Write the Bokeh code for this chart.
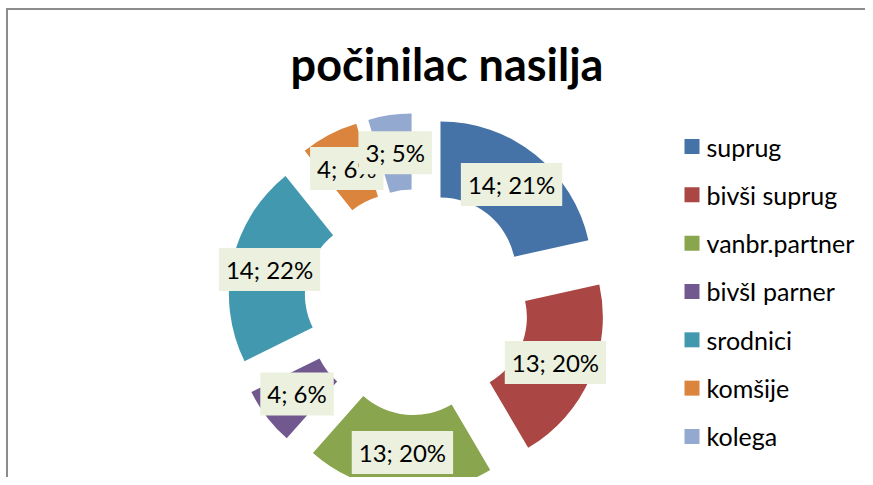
import math
from bokeh.plotting import figure
from bokeh.models import ColumnDataSource, Range1d
from bokeh.core.properties import value
from bokeh.embed import file_html
from bokeh.resources import INLINE

# ---- data ----
title_text = "počinilac nasilja"
categories = ["suprug", "bivši suprug", "vanbr.partner", "bivšI parner", "srodnici", "komšije", "kolega"]
counts = [14, 13, 13, 4, 14, 4, 3]
pct_labels = ["21%", "20%", "20%", "6%", "22%", "6%", "5%"]
colors = ["#4572A7", "#AA4643", "#89A54E", "#71588F", "#4198AF", "#DB843D", "#93A9CF"]

# ---- layout / style (pixel-like data space, y up) ----
W, H = 865, 477
cx, cy = 416.5, H - 301.7
r_in, r_out = 75.5, 151.5
explode = 37.5
FONT = "Lato"

total = float(sum(counts))
xs, ys, starts, ends, lx, ly, texts = [], [], [], [], [], [], []
cum = 0.0
for cat, c, pl in zip(categories, counts, pct_labels):
    t0 = cum / total * 2 * math.pi          # clockwise from top
    t1 = (cum + c) / total * 2 * math.pi
    tm = (t0 + t1) / 2
    ox = cx + explode * math.sin(tm)
    oy = cy + explode * math.cos(tm)
    xs.append(ox); ys.append(oy)
    starts.append(math.pi / 2 - t0)
    ends.append(math.pi / 2 - t1)
    rm = (r_in + r_out) / 2
    lx.append(ox + rm * math.sin(tm))
    ly.append(oy + rm * math.cos(tm))
    texts.append(f"{c}; {pl}")
    cum += c

src = ColumnDataSource(dict(x=xs, y=ys, start=starts, end=ends, color=colors,
                            lx=lx, ly=ly, text=texts, cat=categories))

p = figure(width=W, height=H, output_backend="svg", toolbar_location=None,
           x_range=Range1d(0, W), y_range=Range1d(0, H), min_border=0,
           outline_line_color=None, background_fill_color="white",
           border_fill_color="white")
p.axis.visible = False
p.grid.visible = False

p.annular_wedge(x="x", y="y", inner_radius=r_in, outer_radius=r_out,
                start_angle="start", end_angle="end", direction="clock",
                fill_color="color", line_color=None, source=src)

p.text(x="lx", y="ly", text="text", source=src, text_align="center",
       text_baseline="middle", text_font=value(FONT), text_font_size="24px",
       text_color="black", background_fill_color="#EBF1DE", padding=7)

# title
p.text(x=[446.5], y=[H - 63], text=[title_text], text_align="center",
       text_baseline="middle", text_font=value(FONT), text_font_style="bold",
       text_font_size="45px", text_color="black")

# legend
n = len(categories)
leg_y = [H - (146 + 48.33 * i) for i in range(n)]
leg = ColumnDataSource(dict(y=leg_y, color=colors, cat=categories,
                            x=[691.5] * n, tx=[706] * n))
p.rect(x="x", y="y", width=15, height=15, fill_color="color", line_color=None, source=leg)
p.text(x="tx", y="y", text="cat", source=leg, text_align="left", text_baseline="middle",
       text_font=value(FONT), text_font_size="25px", text_color="black")

# chart border (top and left visible)
p.line(x=[5.5, W], y=[H - 8.5, H - 8.5], line_color="#8C8C8C", line_width=2)
p.line(x=[6.5, 6.5], y=[0, H - 7.5], line_color="#8C8C8C", line_width=2)

open("out.html", "w").write(file_html(p, INLINE))
